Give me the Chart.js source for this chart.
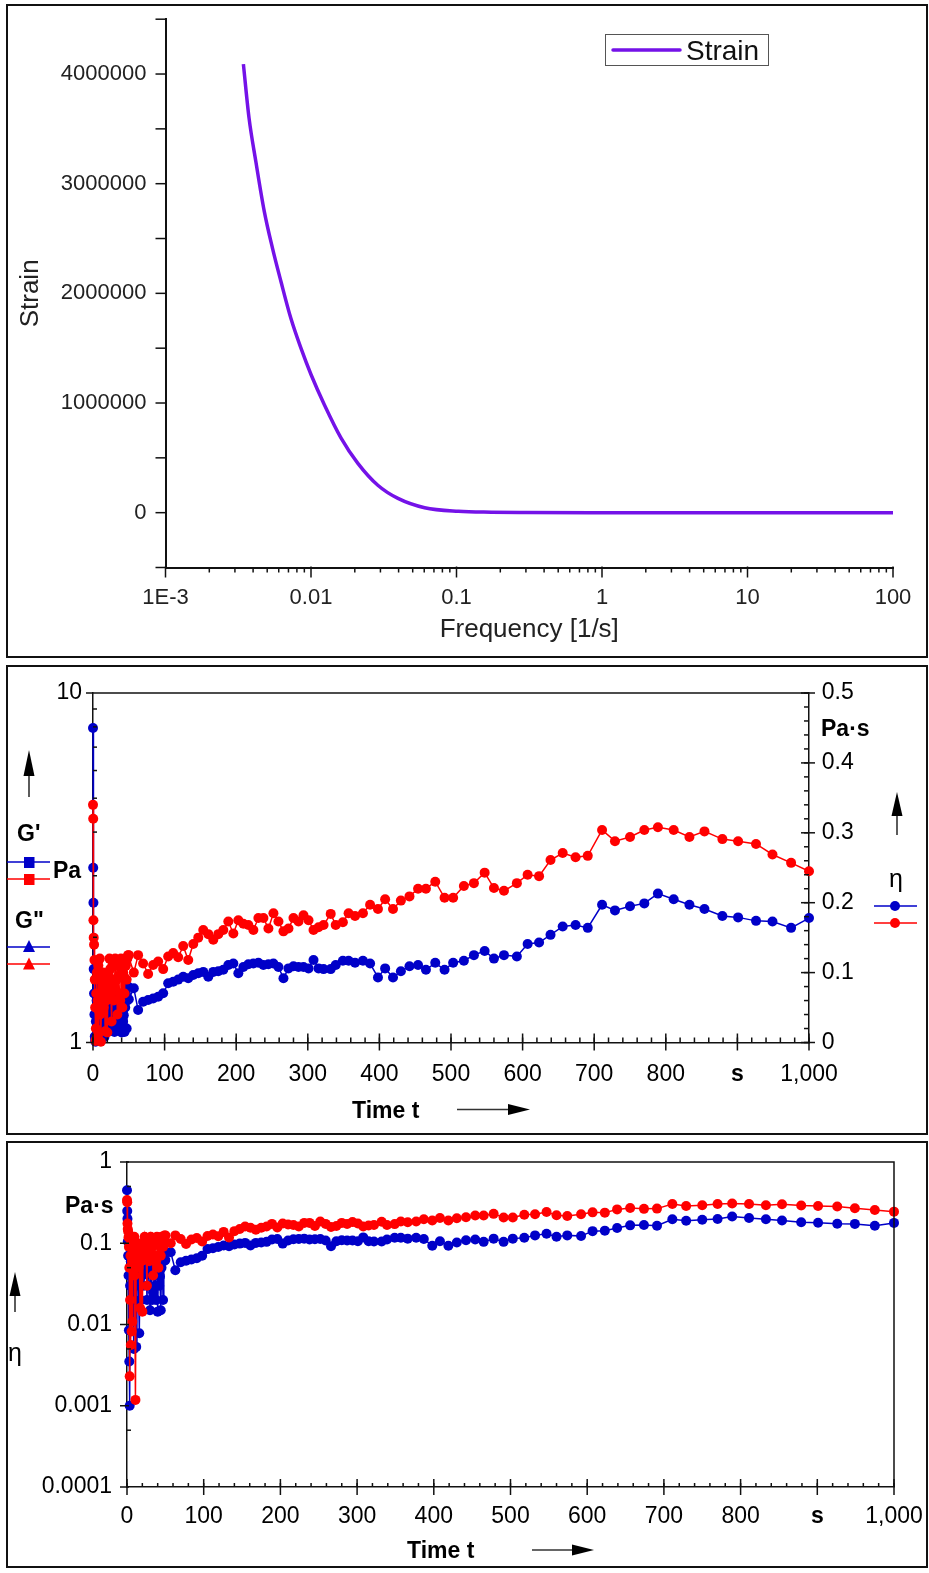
<!DOCTYPE html>
<html>
<head>
<meta charset="utf-8">
<script src="https://cdn.jsdelivr.net/npm/chart.js@4.4.0/dist/chart.umd.min.js"></script>
<style>
  html, body { margin: 0; padding: 0; background: #fff; }
  body { position: relative; width: 929px; height: 1573px; overflow: hidden; }
  .panel { position: absolute; left: 6px; width: 922px; border: 2px solid #111; box-sizing: border-box; }
  canvas { position: absolute; left: 8px; }
  svg { position: absolute; left: 0; top: 0; }
</style>
</head>
<body>
<div class="panel" style="top:4px;height:654px"></div>
<div class="panel" style="top:665px;height:470px"></div>
<div class="panel" style="top:1141px;height:427px"></div>
<canvas id="strainChart" width="918" height="650" style="top:6px"></canvas>
<canvas id="modulusChart" width="918" height="466" style="top:667px"></canvas>
<canvas id="etaChart" width="918" height="423" style="top:1143px"></canvas>

<svg width="929" height="1573" font-family="Liberation Sans, Arial, sans-serif">
  <!-- top panel legend -->
  <rect x="605.5" y="34.5" width="163" height="31" fill="#fff" stroke="#555" stroke-width="1"/>
  <line x1="613" y1="50" x2="680" y2="50" stroke="#7412e8" stroke-width="3.5" stroke-linecap="round"/>
  <text x="686" y="60" font-size="28" fill="#111">Strain</text>

  <!-- middle panel, left side -->
  <line x1="29" y1="797" x2="29" y2="772" stroke="#333" stroke-width="1.6"/>
  <polygon points="29,750 23.5,776 34.5,776" fill="#000"/>
  <text x="17" y="841" font-size="23" font-weight="bold">G'</text>
  <line x1="7" y1="862" x2="50" y2="862" stroke="rgb(0,0,200)" stroke-width="1.5"/>
  <rect x="24" y="857" width="10.5" height="11" fill="rgb(0,0,200)"/>
  <line x1="7" y1="879" x2="50" y2="879" stroke="rgb(255,0,0)" stroke-width="1.5"/>
  <rect x="24" y="874" width="10.5" height="11" fill="rgb(255,0,0)"/>
  <text x="53" y="878" font-size="23" font-weight="bold">Pa</text>
  <text x="15" y="928" font-size="23" font-weight="bold">G"</text>
  <line x1="7" y1="947" x2="50" y2="947" stroke="rgb(0,0,200)" stroke-width="1.5"/>
  <polygon points="29,940 23,952 35,952" fill="rgb(0,0,200)"/>
  <line x1="7" y1="964" x2="50" y2="964" stroke="rgb(255,0,0)" stroke-width="1.5"/>
  <polygon points="29,957.5 23,969.5 35,969.5" fill="rgb(255,0,0)"/>

  <!-- middle panel, right side -->
  <text x="821" y="736" font-size="23" font-weight="bold">Pa·s</text>
  <line x1="897" y1="835" x2="897" y2="812" stroke="#333" stroke-width="1.6"/>
  <polygon points="897,792 891.5,816 902.5,816" fill="#000"/>
  <text x="896" y="887" font-size="25" text-anchor="middle">η</text>
  <line x1="874" y1="906" x2="917" y2="906" stroke="rgb(0,0,200)" stroke-width="1.5"/>
  <circle cx="895" cy="906" r="5" fill="rgb(0,0,200)"/>
  <line x1="874" y1="923" x2="917" y2="923" stroke="rgb(255,0,0)" stroke-width="1.5"/>
  <circle cx="895" cy="923" r="5" fill="rgb(255,0,0)"/>
  <text x="352" y="1118" font-size="23" font-weight="bold">Time t</text>
  <line x1="457" y1="1109.5" x2="512" y2="1109.5" stroke="#333" stroke-width="1.6"/>
  <polygon points="530,1109.5 508,1104 508,1115" fill="#000"/>

  <!-- bottom panel -->
  <text x="65" y="1213" font-size="23" font-weight="bold">Pa·s</text>
  <line x1="15" y1="1312" x2="15" y2="1292" stroke="#333" stroke-width="1.6"/>
  <polygon points="15,1272 9.5,1296 20.5,1296" fill="#000"/>
  <text x="8" y="1361" font-size="25">η</text>
  <text x="407" y="1558" font-size="23" font-weight="bold">Time t</text>
  <line x1="532" y1="1550" x2="576" y2="1550" stroke="#333" stroke-width="1.6"/>
  <polygon points="594,1550 572,1544.5 572,1555.5" fill="#000"/>
</svg>

<script>
// strain vs frequency (top)
const freq = [0.00343, 0.00375, 0.00418, 0.00477, 0.00544, 0.00621, 0.00728, 0.00853, 0.0100, 0.0124,
              0.0161, 0.0210, 0.0288, 0.0396, 0.0604, 0.103, 0.174, 0.3, 1, 10, 100];
const strain = [4090000, 3600000, 3200000, 2750000, 2410000, 2110000, 1770000, 1500000, 1260000, 980000,
                680000, 450000, 250000, 130000, 45000, 12000, 4000, 1500, 300, 30, 3];
const freqTicks = [0.001, 0.01, 0.1, 1, 10, 100];
const freqLabels = ['1E-3', '0.01', '0.1', '1', '10', '100'];
const strainTicks = [0, 1000000, 2000000, 3000000, 4000000];

// viscosity vs time, two samples (middle + bottom)
const timeS = [0, 0.3, 0.6, 1, 1.5, 2, 2.5, 3, 3.5, 4, 4.5, 5, 5.5, 6, 6.5, 7, 7.5, 8, 8.5, 9,
               9.5, 10, 11, 12, 13, 14, 15, 16, 17, 18, 19, 20, 21, 22, 23, 24, 25, 26, 27, 28,
               29, 30, 31, 32, 33, 34, 35, 36, 37, 38, 39, 40, 41, 42, 43, 44, 45, 46, 47, 48, 49,
               50, 57, 63, 70, 77, 84, 91, 98, 105, 112, 119, 126, 133, 140, 147, 154, 161, 168, 175, 182,
               189, 196, 203, 210, 217, 224, 231, 238, 245, 252, 259, 266, 273, 280, 287, 294, 301, 308, 315, 322,
               332, 339, 349, 357, 366, 377, 387, 398, 408, 419, 430, 442, 454, 465, 478, 491, 503, 518, 532, 547,
               560, 574, 592, 607, 623, 639, 656, 674, 691,
               711, 729, 750, 770, 789, 811, 833, 854, 879, 901, 926, 949, 975, 1000];
const etaBlue = [0.45, 0.25, 0.20, 0.105, 0.07, 0.04, 0.0085, 0.0035, 0.001, 0.03, 0.09, 0.06, 0.05, 0.08, 0.10, 0.045, 0.03, 0.07, 0.085, 0.005,
                 0.06, 0.02, 0.06, 0.0053, 0.04, 0.07, 0.03, 0.0078, 0.05, 0.02, 0.065, 0.04, 0.075, 0.03, 0.05, 0.06, 0.08, 0.02, 0.045, 0.065,
                 0.03, 0.015, 0.055, 0.05, 0.02, 0.025, 0.06, 0.07, 0.03, 0.02, 0.045, 0.0144, 0.05, 0.03, 0.039, 0.015, 0.05, 0.07, 0.02, 0.06, 0.08,
                 0.062, 0.0775, 0.0465, 0.0584, 0.0608, 0.063, 0.0655, 0.0704, 0.0847, 0.087, 0.090, 0.094, 0.0918, 0.0966, 0.099, 0.101, 0.094, 0.101, 0.102, 0.104,
                 0.111, 0.113, 0.099, 0.108, 0.112, 0.113, 0.114, 0.111, 0.112, 0.113, 0.108, 0.092, 0.106, 0.109, 0.108, 0.108, 0.106, 0.118, 0.106, 0.105,
                 0.105, 0.111, 0.117, 0.117, 0.114, 0.117, 0.113, 0.093, 0.106, 0.093, 0.102, 0.109, 0.111, 0.104, 0.114, 0.104, 0.114, 0.117, 0.125, 0.131,
                 0.120, 0.125, 0.123, 0.141, 0.143, 0.154, 0.166, 0.168, 0.164,
                 0.197, 0.189, 0.195, 0.199, 0.213, 0.205, 0.197, 0.191, 0.181, 0.179, 0.174, 0.173, 0.164, 0.178];
const etaRed = [0.34, 0.32, 0.175, 0.15, 0.14, 0.118, 0.09, 0.05, 0.0023, 0.02, 0.07, 0.0056, 0.10, 0.0082, 0.06, 0.0108, 0.11, 0.06, 0.045, 0.1,
                0.12, 0.04, 0.00118, 0.09, 0.07, 0.1, 0.05, 0.08, 0.016, 0.09, 0.06, 0.0144, 0.1, 0.08, 0.12, 0.105, 0.07, 0.03, 0.11, 0.09,
                0.06, 0.08, 0.12, 0.11, 0.09, 0.04, 0.115, 0.095, 0.07, 0.06, 0.12, 0.105, 0.05, 0.10, 0.095, 0.07, 0.12, 0.11, 0.09, 0.12, 0.125,
                0.125, 0.100, 0.125, 0.113, 0.098, 0.111, 0.116, 0.105, 0.123, 0.128, 0.122, 0.138, 0.118, 0.141, 0.150, 0.161, 0.155, 0.147, 0.155, 0.161,
                0.173, 0.156, 0.175, 0.170, 0.168, 0.161, 0.178, 0.178, 0.163, 0.185, 0.173, 0.159, 0.163, 0.178, 0.173, 0.182, 0.175, 0.161, 0.165, 0.168,
                0.184, 0.168, 0.172, 0.185, 0.181, 0.185, 0.197, 0.191, 0.205, 0.191, 0.203, 0.209, 0.220, 0.220, 0.230, 0.207, 0.207, 0.224, 0.228, 0.243,
                0.221, 0.217, 0.228, 0.240, 0.238, 0.261, 0.271, 0.265, 0.267,
                0.304, 0.288, 0.294, 0.304, 0.308, 0.304, 0.294, 0.302, 0.291, 0.288, 0.284, 0.269, 0.257, 0.245];
const timeTicks = [0, 100, 200, 300, 400, 500, 600, 700, 800, 900, 1000];
const timeLabels = ['0', '100', '200', '300', '400', '500', '600', '700', '800', 's', '1,000'];
const modTicks = [1, 10];
const modLabels = ['1', '10'];
const etaLinTicks = [0, 0.1, 0.2, 0.3, 0.4, 0.5];
const etaLinLabels = ['0', '0.1', '0.2', '0.3', '0.4', '0.5'];
const etaLogTicks = [0.0001, 0.001, 0.01, 0.1, 1];
const etaLogLabels = ['0.0001', '0.001', '0.01', '0.1', '1'];

const BLUE = 'rgb(0,0,200)';
const RED = 'rgb(255,0,0)';
const PURPLE = '#7412e8';

Chart.defaults.font.family = '"Liberation Sans", Arial, sans-serif';
Chart.defaults.color = '#000';

function fix(size) {
  return s => { if (s.isHorizontal()) s.height = size; else s.width = size; };
}
function setTicks(vals) {
  return s => { s.ticks = vals.map(v => ({ value: v })); };
}
function labelFrom(vals, labels) {
  return v => { const i = vals.indexOf(v); return i < 0 ? '' : labels[i]; };
}
function range(a, b, step) {
  const out = [];
  for (let v = a; v <= b + step / 1000; v += step) out.push(+v.toFixed(6));
  return out;
}
function logMinors(lo, hi, mults) {
  const out = [];
  for (let e = lo; e < hi; e++) mults.forEach(m => out.push(+(m * Math.pow(10, e)).toPrecision(3)));
  return out;
}
function points(xs, ys) {
  return xs.map((x, i) => ({ x: x, y: ys[i] }));
}
// hidden tick marks; their length only sets the gap between axis line and labels
function gap(n) {
  return { display: false, drawTicks: true, tickLength: n };
}

// tick marks in/out of the axis line + optional frame of the plot box
function tickPlugin(axes, frame) {
  return {
    id: 'tickMarks',
    afterDraw(chart) {
      const ctx = chart.ctx, area = chart.chartArea;
      ctx.save();
      ctx.strokeStyle = '#111';
      ctx.lineWidth = 1.5;
      axes.forEach(a => {
        const s = chart.scales[a.id];
        const mark = (vals, inn, out) => vals.forEach(v => {
          const p = s.getPixelForValue(v);
          ctx.beginPath();
          if (s.position === 'bottom') { ctx.moveTo(p, s.top - inn); ctx.lineTo(p, s.top + out); }
          else if (s.position === 'left') { ctx.moveTo(s.right + inn, p); ctx.lineTo(s.right - out, p); }
          else { ctx.moveTo(s.left - inn, p); ctx.lineTo(s.left + out, p); }
          ctx.stroke();
        });
        mark(a.minor || [], a.minorIn || 0, a.minorOut || 0);
        mark(a.major || [], a.majorIn || 0, a.majorOut || 0);
      });
      if (frame) {
        ctx.beginPath();
        ctx.moveTo(area.left, area.top);
        ctx.lineTo(area.right, area.top);
        if (frame === 'box') ctx.lineTo(area.right, area.bottom);
        ctx.stroke();
      }
      ctx.restore();
    }
  };
}

const base = {
  responsive: false,
  animation: false,
  devicePixelRatio: 1,
  plugins: { legend: { display: false }, tooltip: { enabled: false } }
};
const timeFont = c => ({ size: 23, weight: c.tick && c.tick.value === 900 ? 'bold' : 'normal' });

function etaSet(label, values, color) {
  return {
    label: label,
    data: points(timeS, values),
    borderColor: color,
    backgroundColor: color,
    borderWidth: 1.5,
    pointRadius: 5,
    pointHoverRadius: 5,
    pointBorderWidth: 0,
    pointBackgroundColor: color,
    clip: false
  };
}

// top panel
new Chart(document.getElementById('strainChart'), {
  type: 'line',
  data: {
    datasets: [{
      label: 'Strain',
      data: points(freq, strain),
      borderColor: PURPLE,
      borderWidth: 3.5,
      pointRadius: 0,
      cubicInterpolationMode: 'monotone'
    }]
  },
  options: Object.assign({}, base, {
    layout: { padding: { left: 0, top: 12.3, right: 33, bottom: 0 } },
    scales: {
      x: {
        type: 'logarithmic', min: 0.001, max: 100,
        afterFit: fix(88.5), afterBuildTicks: setTicks(freqTicks),
        grid: gap(17), border: { color: '#111', width: 2 },
        ticks: { callback: labelFrom(freqTicks, freqLabels), padding: 0, autoSkip: false, maxRotation: 0, font: { size: 22 }, color: '#222' },
        title: { display: true, text: 'Frequency [1/s]', font: { size: 26 }, color: '#222', padding: { top: 0, bottom: 11 } }
      },
      y: {
        type: 'linear', min: -500000, max: 4500000,
        afterFit: fix(157.5), afterBuildTicks: setTicks(strainTicks),
        grid: gap(19), border: { color: '#111', width: 2 },
        ticks: { callback: v => String(v), padding: 0, autoSkip: false, font: { size: 22 }, color: '#222' },
        title: { display: true, text: 'Strain', font: { size: 26 }, color: '#222', padding: { top: 7, bottom: 0 } }
      }
    }
  }),
  plugins: [tickPlugin([
    { id: 'x', major: freqTicks, majorOut: 10, majorIn: 1, minor: logMinors(-3, 2, [2, 3, 4, 5, 6, 7, 8, 9]), minorOut: 5 },
    { id: 'y', major: range(-500000, 4500000, 500000), majorOut: 10 }
  ], false)]
});

// middle panel
new Chart(document.getElementById('modulusChart'), {
  type: 'line',
  data: { datasets: [etaSet('η red', etaRed, RED), etaSet('η blue', etaBlue, BLUE)].map(d => Object.assign(d, { yAxisID: 'y2' })) },
  options: Object.assign({}, base, {
    layout: { padding: { left: 0, top: 26, right: 0, bottom: 0 } },
    scales: {
      x: {
        type: 'linear', min: 0, max: 1000,
        afterFit: fix(90.5), afterBuildTicks: setTicks(timeTicks),
        grid: gap(18.5), border: { color: '#111', width: 1.5 },
        ticks: { callback: labelFrom(timeTicks, timeLabels), padding: 0, autoSkip: false, maxRotation: 0, font: timeFont }
      },
      y: {
        type: 'logarithmic', position: 'left', min: 1, max: 10,
        afterFit: fix(85), afterBuildTicks: setTicks(modTicks),
        grid: gap(11), border: { color: '#111', width: 1.5 },
        ticks: { callback: labelFrom(modTicks, modLabels), padding: 0, autoSkip: false, font: { size: 23 } }
      },
      y2: {
        type: 'linear', position: 'right', min: 0, max: 0.5,
        afterFit: fix(117), afterBuildTicks: setTicks(etaLinTicks),
        grid: gap(12.7), border: { color: '#111', width: 1.5 },
        ticks: { callback: labelFrom(etaLinTicks, etaLinLabels), padding: 0, autoSkip: false, font: { size: 23 } }
      }
    }
  }),
  plugins: [tickPlugin([
    { id: 'x', major: timeTicks, majorIn: 9, majorOut: 8, minor: range(0, 1000, 20), minorIn: 5 },
    { id: 'y', major: modTicks, majorOut: 7, minor: [2, 3, 4, 5, 6, 7, 8, 9], minorIn: 4 },
    { id: 'y2', major: etaLinTicks, majorIn: 8, majorOut: 6, minor: range(0, 0.5, 0.02), minorIn: 5 }
  ], 'top')]
});

// bottom panel
new Chart(document.getElementById('etaChart'), {
  type: 'line',
  data: { datasets: [etaSet('η red', etaRed, RED), etaSet('η blue', etaBlue, BLUE)] },
  options: Object.assign({}, base, {
    layout: { padding: { left: 0, top: 19, right: 32, bottom: 0 } },
    scales: {
      x: {
        type: 'linear', min: 0, max: 1000,
        afterFit: fix(79), afterBuildTicks: setTicks(timeTicks),
        grid: gap(16), border: { color: '#111', width: 1.5 },
        ticks: { callback: labelFrom(timeTicks, timeLabels), padding: 0, autoSkip: false, maxRotation: 0, font: timeFont }
      },
      y: {
        type: 'logarithmic', min: 0.0001, max: 1,
        afterFit: fix(119), afterBuildTicks: setTicks(etaLogTicks),
        grid: gap(15), border: { color: '#111', width: 1.5 },
        ticks: { callback: labelFrom(etaLogTicks, etaLogLabels), padding: 0, autoSkip: false, font: { size: 23 } }
      }
    }
  }),
  plugins: [tickPlugin([
    { id: 'x', major: timeTicks, majorIn: 8, majorOut: 8, minor: range(0, 1000, 20), minorIn: 4 },
    { id: 'y', major: etaLogTicks, majorIn: 2, majorOut: 7, minor: logMinors(-4, 0, [5]), minorIn: 4 }
  ], 'box')]
});
</script>
</body>
</html>
